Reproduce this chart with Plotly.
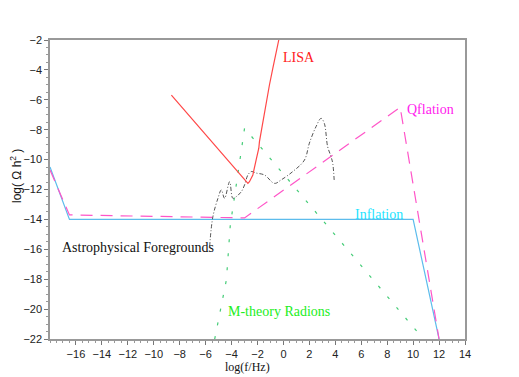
import plotly.graph_objects as go

# log(f/Hz), log(Omega h^2)
inflation_x = [-18, -16.5, 10, 12]
inflation_y = [-10.5, -14.0, -14.0, -22.0]

qflation_x = [-18, -16.5, -3.0, 9.0, 12.0]
qflation_y = [-10.7, -13.7, -13.9, -6.5, -22.0]

lisa_x = [-8.64, -3.0, -2.74, -2.62, -2.36, -2.1, -1.9, -1.85, -1.72, -1.59, -1.54,
          -1.33, -1.08, -0.82, -0.36]
lisa_y = [-5.68, -11.36, -11.59, -11.48, -11.03, -10.0, -9.24, -8.8, -8.13, -7.6, -7.46,
          -6.35, -5.01, -3.9, -2.0]

radion_x = [-5.3, -4.4, -4.1, -3.9, -3.72, -3.51, -3.26, -3.0, 10.4]
radion_y = [-22.0, -18.05, -14.4, -13.15, -12.03, -10.8, -9.47, -7.9, -21.6]

astro_x = [-5.69, -5.44, -5.05, -4.79, -4.54, -4.15, -3.9, -3.64, -3.25, -3.0, -2.74,
           -2.48, -2.1, -1.46, -0.69, -0.18, 0.72, 1.62, 2.0, 2.51, 2.9, 3.15, 3.41,
           3.67, 3.8, 3.92]
astro_y = [-15.8, -13.82, -12.59, -12.03, -12.59, -11.48, -12.59, -12.48, -12.15, -11.7,
           -11.03, -10.8, -10.9, -11.03, -11.59, -11.36, -10.8, -10.03, -8.9, -7.8, -7.24,
           -7.57, -9.14, -9.8, -10.25, -11.48]

x_ticks = list(range(-16, 15, 2))
y_ticks = list(range(-22, -1, 2))

serif = "Liberation Serif, Times New Roman, serif"
sans = "Liberation Sans, Arial, sans-serif"

fig = go.Figure()

fig.add_trace(go.Scatter(x=inflation_x, y=inflation_y, mode="lines",
                         line=dict(color="#5cbcec", width=1.2)))
fig.add_trace(go.Scatter(x=qflation_x, y=qflation_y, mode="lines",
                         line=dict(color="#ff55c8", width=1.2, dash="12px,8px")))
fig.add_trace(go.Scatter(x=radion_x, y=radion_y, mode="lines",
                         line=dict(color="#44cc77", width=1.2, dash="3px,11px")))
fig.add_trace(go.Scatter(x=astro_x, y=astro_y, mode="lines", line_shape="spline",
                         line=dict(color="#555555", width=1, dash="4px,2px,1px,2px")))
fig.add_trace(go.Scatter(x=lisa_x, y=lisa_y, mode="lines",
                         line=dict(color="#ff4848", width=1.2)))

labels = [
    ("LISA", -0.15, -3.2, "#ff2020", 14),
    ("Qflation", 9.38, -6.64, "#ff22ee", 14),
    ("Inflation", 5.33, -13.64, "#22e4ff", 14),
    ("Astrophysical Foregrounds", -17.23, -15.87, "#111111", 14),
    ("M-theory Radions", -4.46, -20.17, "#22ee22", 14),
]
for text, lx, ly, col, size in labels:
    fig.add_annotation(x=lx, y=ly, text=text, showarrow=False, xanchor="left",
                       yanchor="middle", font=dict(family=serif, size=size, color=col))

# axis titles sit a little off-centre in the original
fig.add_annotation(x=-2.8, y=-0.095, xref="x", yref="paper", text="log(f/Hz)",
                   showarrow=False, xanchor="center", yanchor="middle",
                   font=dict(family=serif, size=12, color="#111111"))
fig.add_annotation(x=-0.082, y=0.545, xref="paper", yref="paper",
                   text="log( \u03a9 h<sup>2</sup> )", textangle=-90,
                   showarrow=False, xanchor="center", yanchor="middle",
                   font=dict(family=sans, size=12, color="#111111"))

# page body adds an 8px offset, so the figure is drawn 8px smaller
fig.update_layout(
    width=511, height=369,
    margin=dict(l=42, r=54, t=32, b=38),
    paper_bgcolor="white", plot_bgcolor="white",
    showlegend=False,
    font=dict(family=sans, size=11, color="#222222"),
)
fig.update_xaxes(
    range=[-18, 14], tickvals=x_ticks, ticktext=[str(v).replace("-", "\u2212") for v in x_ticks],
    automargin=False,
    showgrid=False, zeroline=False, showline=True, linecolor="#999999", linewidth=1.5,
    mirror=True, ticks="outside", ticklen=4, tickcolor="#777777",
    minor=dict(ticks="outside", ticklen=2, dtick=0.5, tickcolor="#999999"),
)
fig.update_yaxes(
    range=[-22, -2], tickvals=y_ticks, ticktext=[str(v).replace("-", "\u2212") for v in y_ticks],
    automargin=False,
    showgrid=False, zeroline=False, showline=True, linecolor="#999999", linewidth=1.5,
    mirror=True, ticks="outside", ticklen=4, tickcolor="#777777",
    minor=dict(ticks="outside", ticklen=2, dtick=0.5, tickcolor="#999999"),
)

fig.write_html("out.html")
